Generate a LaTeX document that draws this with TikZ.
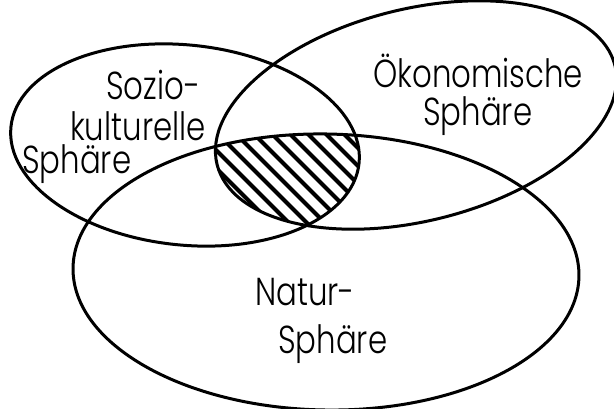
\documentclass[tikz,border=0pt]{standalone}
\usepackage{fontspec}
\setmainfont[FakeStretch=0.79]{Poppins Light}
\begin{document}
\begin{tikzpicture}[x=1pt,y=1pt,
  sphere/.style={line width=3pt},
  hatchline/.style={line width=4pt},
  lbl/.style={anchor=base west,inner sep=0pt,font=\fontsize{39}{44}\selectfont}]
\useasboundingbox (0,0) rectangle (614,408);
% hatched common region
\begin{scope}
  \clip[rotate around={-6:(185,263)}] (185,263) ellipse [x radius=175, y radius=100];
  \clip[rotate around={14:(416,293)}] (416,293) ellipse [x radius=205, y radius=106];
  \clip[rotate around={-1:(326,136)}] (326,136) ellipse [x radius=253, y radius=137];
  \foreach \k in {0,...,22} {
    \draw[hatchline] ({100+18*\k},320) -- ({100+18*\k+200},120);
  }
\end{scope}
% the three spheres
\draw[sphere, rotate around={-6:(185,263)}] (185,263) ellipse [x radius=175, y radius=100];
\draw[sphere, rotate around={14:(416,293)}] (416,293) ellipse [x radius=205, y radius=106];
\draw[sphere, rotate around={-1:(326,136)}] (326,136) ellipse [x radius=253, y radius=138];
% labels
\node[lbl] (s1) at (106,308) {Sozio-};
\node[lbl] (s2) at (70,268) {kulturelle};
\node[lbl] (s3) at (22,235) {Sphäre};
\node[lbl] (o1) at (373,320) {Ökonomische};
\node[lbl] (o2) at (423,283) {Sphäre};
\node[lbl] (n1) at (255,103) {Natur-};
\node[lbl] (n2) at (278,55) {Sphäre};
\end{tikzpicture}
\end{document}
